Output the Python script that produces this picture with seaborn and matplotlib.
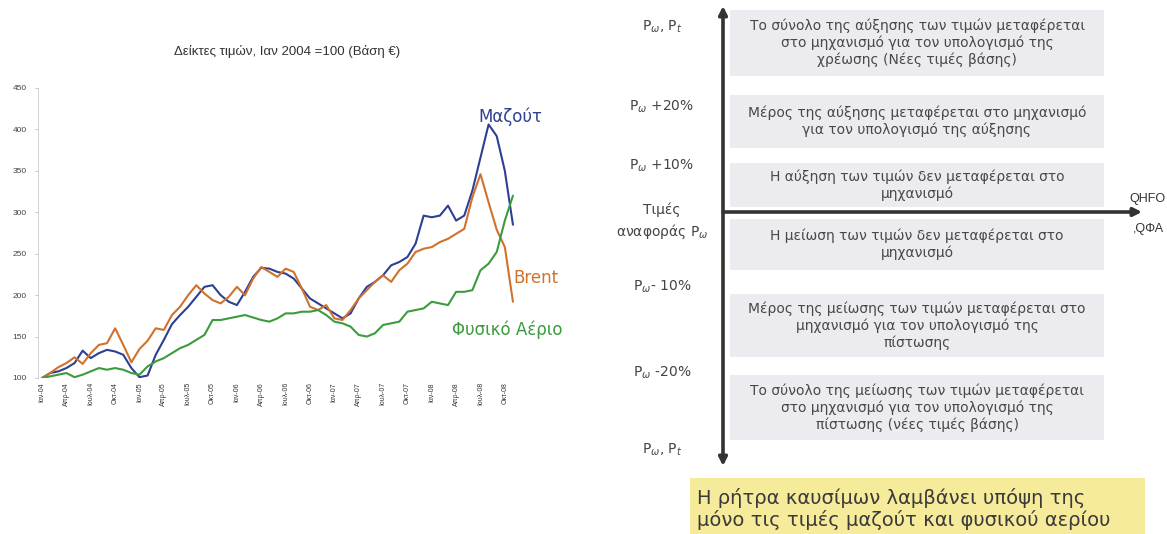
import numpy as np
import pandas as pd
import matplotlib
matplotlib.use("Agg")
import matplotlib.pyplot as plt
from matplotlib.patches import Rectangle
import seaborn as sns

# ---- price indices, Jan 2004 = 100, monthly ----
mazout = [100, 106, 108, 112, 118, 133, 124, 130, 134, 132, 128, 112, 101, 103, 128,
          146, 165, 176, 186, 198, 210, 212, 200, 192, 188, 204, 222, 233, 232, 228,
          226, 220, 208, 196, 190, 184, 178, 172, 178, 196, 210, 216, 224, 236, 240,
          246, 262, 296, 294, 296, 308, 290, 296, 326, 366, 406, 392, 350, 285]
brent = [100, 106, 113, 118, 125, 117, 130, 140, 142, 160, 140, 119, 135, 145, 160,
         158, 176, 186, 200, 212, 202, 194, 190, 198, 210, 200, 220, 234, 228, 222,
         232, 228, 208, 186, 182, 188, 172, 170, 182, 196, 206, 216, 224, 216, 230,
         238, 252, 256, 258, 264, 268, 274, 280, 318, 346, 312, 279, 258, 192]
gas = [100, 102, 104, 106, 101, 104, 108, 112, 110, 112, 110, 106, 104, 114, 120,
       124, 130, 136, 140, 146, 152, 170, 170, 172, 174, 176, 173, 170, 168, 172,
       178, 178, 180, 180, 182, 176, 168, 166, 162, 152, 150, 154, 164, 166, 168,
       180, 182, 184, 192, 190, 188, 204, 204, 206, 230, 238, 252, 290, 320]

series_names = ["Μαζούτ", "Brent", "Φυσικό Αέριο"]
series_colors = ["#2e3f94", "#d0712c", "#3c9b3c"]

quarter_labels = ["Ιαν-04", "Απρ-04", "Ιουλ-04", "Οκτ-04",
                  "Ιαν-05", "Απρ-05", "Ιουλ-05", "Οκτ-05",
                  "Ιαν-06", "Απρ-06", "Ιουλ-06", "Οκτ-06",
                  "Ιαν-07", "Απρ-07", "Ιουλ-07", "Οκτ-07",
                  "Ιαν-08", "Απρ-08", "Ιουλ-08", "Οκτ-08"]
y_ticks = [100, 150, 200, 250, 300, 350, 400, 450]

# ---- scheme of the fuel clause ----
level_labels = [r"P$_{\omega}$, P$_{t}$", r"P$_{\omega}$ +20%", r"P$_{\omega}$ +10%",
                "Τιμές\nαναφοράς P$_{\\omega}$", r"P$_{\omega}$- 10%",
                r"P$_{\omega}$ -20%", r"P$_{\omega}$, P$_{t}$"]
box_texts = [
    "Το σύνολο της αύξησης των τιμών μεταφέρεται\nστο μηχανισμό για τον υπολογισμό της\nχρέωσης (Νέες τιμές βάσης)",
    "Μέρος της αύξησης μεταφέρεται στο μηχανισμό\nγια τον υπολογισμό της αύξησης",
    "Η αύξηση των τιμών δεν μεταφέρεται στο\nμηχανισμό",
    "Η μείωση των τιμών δεν μεταφέρεται στο\nμηχανισμό",
    "Μέρος της μείωσης των τιμών μεταφέρεται στο\nμηχανισμό για τον υπολογισμό της\nπίστωσης",
    "Το σύνολο της μείωσης των τιμών μεταφέρεται\nστο μηχανισμό για τον υπολογισμό της\nπίστωσης (νέες τιμές βάσης)",
]
note_text = "Η ρήτρα καυσίμων λαμβάνει υπόψη της\nμόνο τις τιμές μαζούτ και φυσικού αερίου"

sns.set_theme(style="white")
plt.rcParams['font.family'] = ['Liberation Sans', 'DejaVu Sans']
WIDE = ['DejaVu Sans']

W, H = 1167, 534
fig = plt.figure(figsize=(W / 100, H / 100), dpi=100)

# ---------- left: price index chart ----------
ax = fig.add_axes([38 / W, 1 - 378 / H, 492 / W, 290 / H])
n = len(mazout)
df = pd.DataFrame({
    "month": list(range(n)) * 3,
    "index": mazout + brent + gas,
    "series": [s for s in series_names for _ in range(n)],
})
sns.lineplot(data=df, x="month", y="index", hue="series", hue_order=series_names,
             palette=series_colors, linewidth=1.5, legend=False, ax=ax)
ax.set_xlim(-0.5, 60.1)
ax.set_ylim(100, 450)
ax.set_yticks(y_ticks)
ax.set_yticklabels([str(v) for v in y_ticks], fontsize=6, color="#444444")
ax.set_xticks(list(range(0, 3 * len(quarter_labels), 3)))
ax.set_xticklabels(quarter_labels, rotation=90, fontsize=5, color="#333333")
ax.tick_params(axis="y", length=2, width=0.6, color="#bbbbbb", pad=6, left=True)
ax.tick_params(axis="x", length=0, pad=3)
ax.set_xlabel("")
ax.set_ylabel("")
for side in ["top", "right", "bottom"]:
    ax.spines[side].set_visible(False)
ax.spines["left"].set_color("#cccccc")
ax.spines["left"].set_linewidth(0.6)
ax.patch.set_alpha(0)

ax.text(53.7, 415, "Μαζούτ", color=series_colors[0], fontsize=12, family=WIDE,
        va="center", clip_on=False)
ax.text(58.0, 221, "Brent", color=series_colors[1], fontsize=12, family=WIDE,
        va="center", clip_on=False)
ax.text(50.5, 158, "Φυσικό Αέριο", color=series_colors[2], fontsize=12, family=WIDE,
        va="center", clip_on=False)

fig.text(287 / W, 1 - 52 / H, "Δείκτες τιμών, Ιαν 2004 =100 (Βάση €)",
         ha="center", va="center", fontsize=9.5, color="#333333")

# ---------- right: scheme drawn in pixel space ----------
dax = fig.add_axes([0, 0, 1, 1], zorder=-1)
dax.set_xlim(0, W)
dax.set_ylim(H, 0)
dax.axis("off")

box_spans = [(10, 76), (95, 148), (163, 207), (219, 270), (294, 357), (375, 440)]
for (y0, y1), txt in zip(box_spans, box_texts):
    dax.add_patch(Rectangle((730, y0), 374, y1 - y0, facecolor="#ececf0", edgecolor="none"))
    dax.text(917, (y0 + y1) / 2, txt, ha="center", va="center", fontsize=10,
             family=WIDE, color="#484848", linespacing=1.2)

axis_x, axis_y = 723, 212
dax.annotate("", xy=(axis_x, 6), xytext=(axis_x, 466),
             arrowprops=dict(arrowstyle="<|-|>", lw=2.6, color="#333333", mutation_scale=12,
                             shrinkA=0, shrinkB=0))
dax.annotate("", xy=(1142, axis_y), xytext=(axis_x, axis_y),
             arrowprops=dict(arrowstyle="-|>", lw=2.6, color="#333333", mutation_scale=12,
                             shrinkA=0, shrinkB=0))
dax.text(1166, 199, "QHFO", ha="right", va="center", fontsize=9, color="#333333")
dax.text(1164, 229, ",QΦΑ", ha="right", va="center", fontsize=9, color="#333333")

label_y = [27, 107, 166, 222, 287, 373, 450]
for y, lab in zip(label_y, level_labels):
    dax.text(662, y, lab, ha="center", va="center", fontsize=10, family=WIDE,
             color="#444444", linespacing=1.35)

dax.add_patch(Rectangle((690, 478), 455, 60, facecolor="#f6eb9a", edgecolor="none"))
dax.text(697, 509, note_text, ha="left", va="center", fontsize=14, family=WIDE,
         color="#3a3a3a", linespacing=1.15)

fig.savefig("out.png", dpi=100)
